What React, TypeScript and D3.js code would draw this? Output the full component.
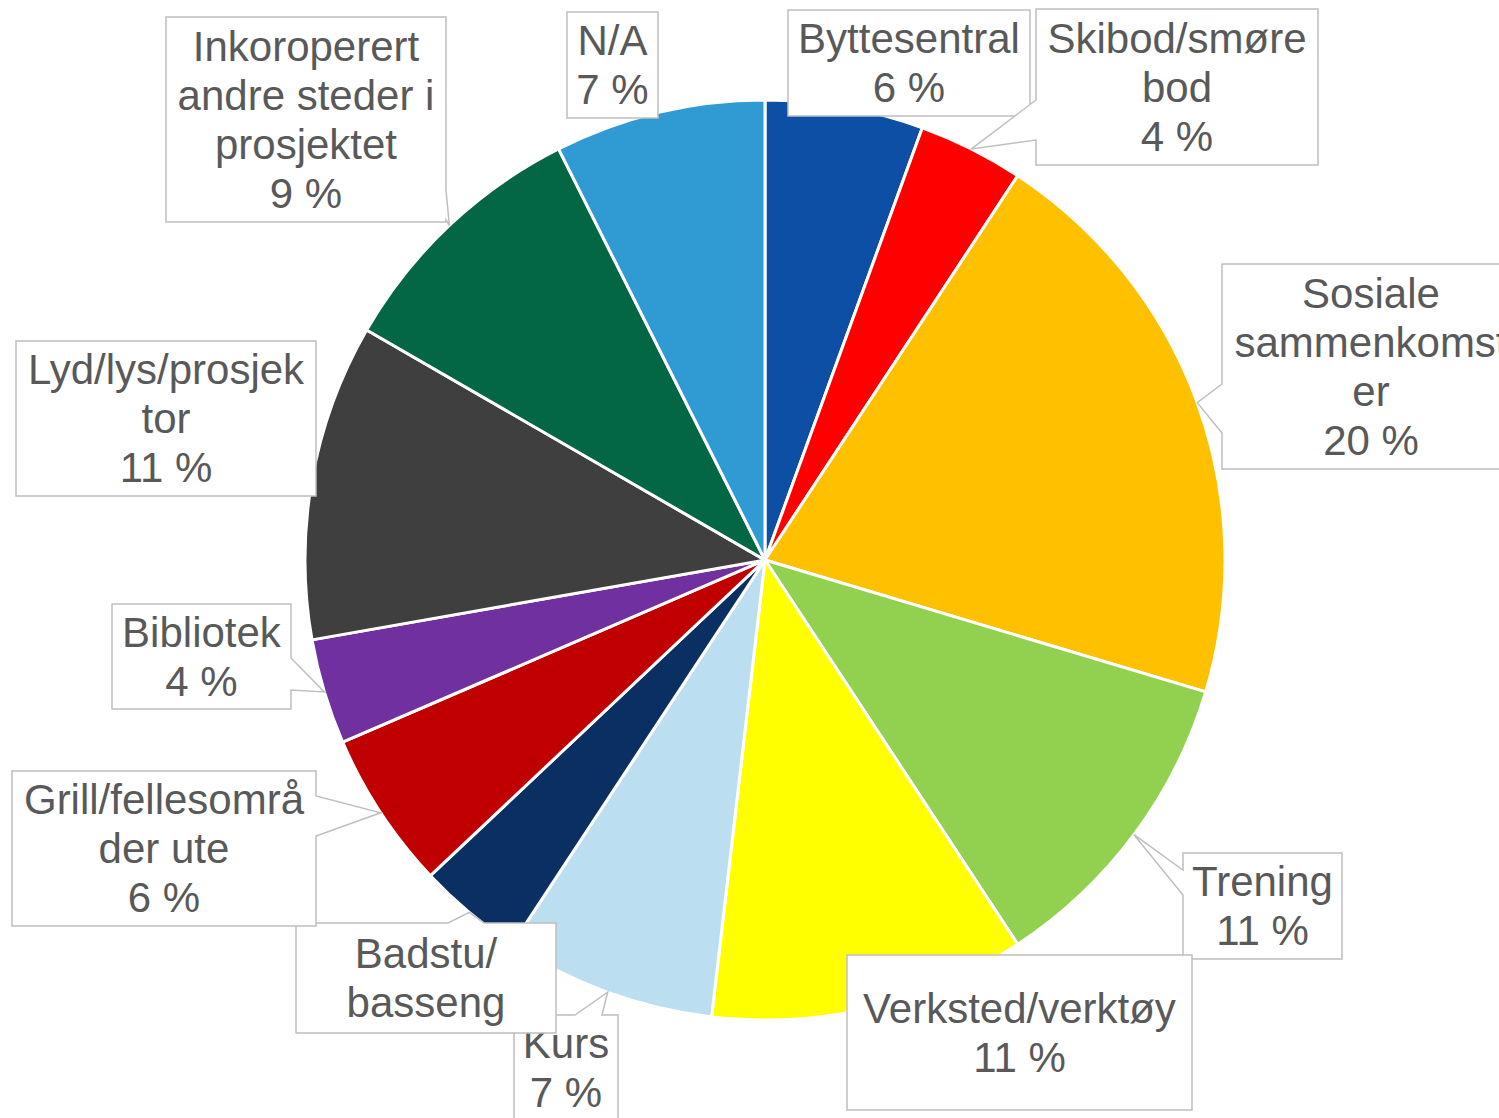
import React from "react";
import * as d3 from "d3";

// ---- Data ----
const categories = [
  "Byttesentral",
  "Skibod/smøre bod",
  "Sosiale sammenkomster",
  "Trening",
  "Verksted/verktøy",
  "Kurs",
  "Badstu/ basseng",
  "Grill/fellesområder ute",
  "Bibliotek",
  "Lyd/lys/prosjektor",
  "Inkoroperert andre steder i prosjektet",
  "N/A",
];
const counts = [3, 2, 11, 6, 6, 4, 2, 3, 2, 6, 5, 4];
const labelLines = [
  ["Byttesentral"],
  ["Skibod/smøre", "bod"],
  ["Sosiale", "sammenkomst", "er"],
  ["Trening"],
  ["Verksted/verktøy"],
  ["Kurs"],
  ["Badstu/", "basseng"],
  ["Grill/fellesområ", "der ute"],
  ["Bibliotek"],
  ["Lyd/lys/prosjek", "tor"],
  ["Inkoroperert", "andre steder i", "prosjektet"],
  ["N/A"],
];
const showPercent = [true, true, true, true, true, true, false, true, true, true, true, true];
const colors = [
  "#0E4FA6",
  "#FF0000",
  "#FFC000",
  "#92D050",
  "#FFFF00",
  "#BBDEF0",
  "#0A2F63",
  "#C00000",
  "#7030A0",
  "#3F3F3F",
  "#036645",
  "#309AD3",
];

// ---- Layout (label callout boxes) ----
type Box = { x: number; y: number; w: number; h: number };
type Ptr = { side: "left" | "right" | "top"; b1: number; b2: number } | null;
const labelBoxes: Box[] = [
  { x: 788, y: 10, w: 242, h: 106 },
  { x: 1036, y: 9, w: 282, h: 156 },
  { x: 1222, y: 264, w: 298, h: 205 },
  { x: 1183, y: 853, w: 159, h: 106 },
  { x: 847, y: 955, w: 345, h: 155 },
  { x: 514, y: 1015, w: 104, h: 106 },
  { x: 296, y: 923, w: 260, h: 110 },
  { x: 12, y: 771, w: 304, h: 155 },
  { x: 112, y: 604, w: 179, h: 105 },
  { x: 16, y: 341, w: 300, h: 155 },
  { x: 166, y: 17, w: 280, h: 205 },
  { x: 567, y: 12, w: 91, h: 106 },
];
const pointers: Ptr[] = [
  null,
  { side: "left", b1: 100, b2: 140 },
  { side: "left", b1: 384, b2: 433 },
  { side: "left", b1: 870, b2: 895 },
  null,
  { side: "top", b1: 575, b2: 602 },
  { side: "top", b1: 448, b2: 484 },
  { side: "right", b1: 796, b2: 836 },
  { side: "right", b1: 658, b2: 690 },
  null,
  { side: "right", b1: 190, b2: 220 },
  null,
];

const W = 1499;
const H = 1118;
const CX = 765;
const CY = 560;
const R = 460;
const FONT = 42;
const LINE = 49;

function calloutPath(b: Box, tip: [number, number], p: Ptr): string {
  const { x, y, w, h } = b;
  const x2 = x + w;
  const y2 = y + h;
  const inside = tip[0] >= x && tip[0] <= x2 && tip[1] >= y && tip[1] <= y2;
  if (!p || inside) return `M${x},${y}H${x2}V${y2}H${x}Z`;
  const [tx, ty] = tip;
  if (p.side === "left")
    return `M${x},${y}H${x2}V${y2}H${x}V${p.b2}L${tx},${ty}L${x},${p.b1}Z`;
  if (p.side === "right")
    return `M${x},${y}H${x2}V${p.b1}L${tx},${ty}L${x2},${p.b2}V${y2}H${x}Z`;
  return `M${x},${y}H${p.b1}L${tx},${ty}L${p.b2},${y}H${x2}V${y2}H${x}Z`;
}

export default function App() {
  const total = d3.sum(counts);
  const pie = d3
    .pie<number>()
    .sort(null)
    .value((d) => d)
    .startAngle(0)
    .endAngle(2 * Math.PI);
  const arcs = pie(counts);
  const arc = d3.arc<d3.PieArcDatum<number>>().innerRadius(0).outerRadius(R);
  const edgeArc = d3.arc<d3.PieArcDatum<number>>().innerRadius(R).outerRadius(R);

  return (
    <svg
      width={W}
      height={H}
      style={{ position: "absolute", left: 0, top: 0, background: "#fff" }}
      fontFamily="'Liberation Sans', Arial, sans-serif"
    >
      <rect width={W} height={H} fill="#fff" />
      <g transform={`translate(${CX},${CY})`}>
        {arcs.map((a, i) => (
          <path
            key={categories[i]}
            d={arc(a) || ""}
            fill={colors[i]}
            stroke="#fff"
            strokeWidth={3}
            strokeLinejoin="round"
          />
        ))}
      </g>
      {arcs.map((a, i) => {
        const c = edgeArc.centroid(a);
        const tip: [number, number] = [CX + c[0], CY + c[1]];
        const b = labelBoxes[i];
        const lines = showPercent[i]
          ? [...labelLines[i], `${Math.round((counts[i] / total) * 100)} %`]
          : labelLines[i];
        const cy = b.y + b.h / 2;
        const cx = b.x + b.w / 2;
        return (
          <g key={"lbl" + i}>
            <path
              d={calloutPath(b, tip, pointers[i])}
              fill="#fff"
              stroke="#BFBFBF"
              strokeWidth={1.5}
            />
            <text
              textAnchor="middle"
              fontSize={FONT}
              fill="#595959"
            >
              {lines.map((ln, j) => (
                <tspan
                  key={j}
                  x={cx}
                  y={cy + (j - (lines.length - 1) / 2) * LINE + FONT * 0.35}
                >
                  {ln}
                </tspan>
              ))}
            </text>
          </g>
        );
      })}
    </svg>
  );
}
